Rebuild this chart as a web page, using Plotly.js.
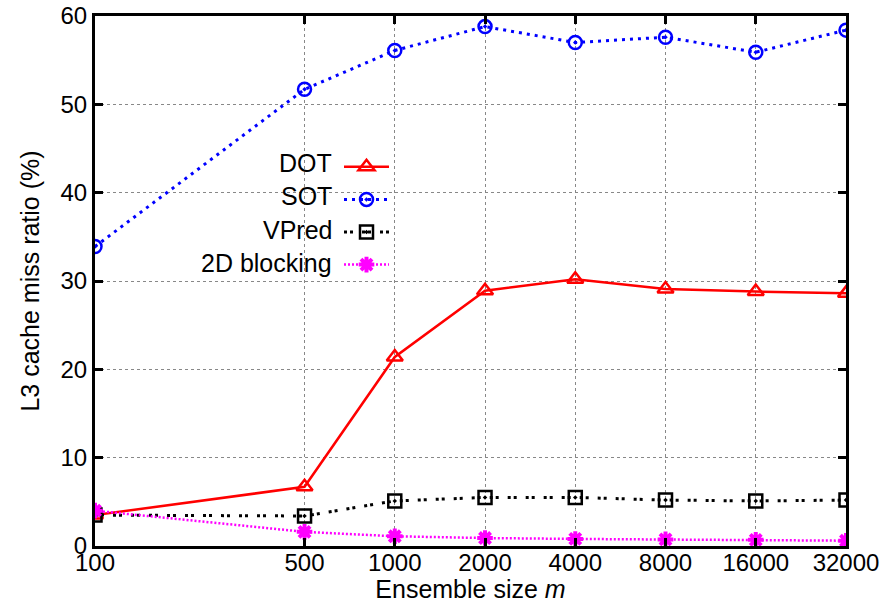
<!DOCTYPE html>
<html>
<head>
<meta charset="utf-8">
<script src="https://cdn.plot.ly/plotly-3.0.1.min.js"></script>
<style>html,body{margin:0;padding:0;background:#fff;}#chart{width:894px;height:603px;}</style>
</head>
<body>
<div id="chart"></div>
<script>
const ensembleSizes = [100, 500, 1000, 2000, 4000, 8000, 16000, 32000];
const tickLabels = ["100", "500", "1000", "2000", "4000", "8000", "16000", "32000"];
const seriesNames = ["DOT", "SOT", "VPred", "2D blocking"];
const dotValues = [3.5, 6.7, 21.4, 28.9, 30.2, 29.1, 28.8, 28.6];
const sotValues = [33.9, 51.7, 56.1, 58.8, 57.0, 57.6, 55.9, 58.4];
const vpredValues = [3.5, 3.4, 5.1, 5.5, 5.5, 5.2, 5.1, 5.2];
const blockingValues = [4.0, 1.6, 1.1, 0.9, 0.8, 0.75, 0.7, 0.6];
const yTicks = [0, 10, 20, 30, 40, 50, 60];

const FONT = "Liberation Sans, Arial, Helvetica, sans-serif";

const traces = [
  {x: ensembleSizes, y: dotValues, name: seriesNames[0], mode: "lines+markers",
   line: {color: "#ff0000", width: 2.5},
   marker: {symbol: "triangle-up-open", size: 14, color: "#ff0000", line: {width: 2.5, color: "#ff0000"}}},
  {x: ensembleSizes, y: sotValues, name: seriesNames[1], mode: "lines+markers",
   line: {color: "#0000ff", width: 3, dash: "3px,5px"},
   marker: {symbol: "circle-open-dot", size: 13, color: "#0000ff", line: {width: 2.5, color: "#0000ff"}}},
  {x: ensembleSizes, y: vpredValues, name: seriesNames[2], mode: "lines+markers",
   line: {color: "#000000", width: 3, dash: "3px,3px,3px,9px"},
   marker: {symbol: "square-open-dot", size: 13, color: "#000000", line: {width: 2.5, color: "#000000"}}},
  {x: ensembleSizes, y: blockingValues, name: seriesNames[3], mode: "lines+markers",
   line: {color: "#ff00ff", width: 2.5, dash: "2px,2px"},
   marker: {symbol: "asterisk-open", size: 13, color: "#ff00ff", line: {width: 4, color: "#ff00ff"}}}
];

traces.forEach((t, i) => { t.legendgroup = "g" + i; });

const legendX0 = 343, legendY0 = 163, legendStep = 33.3;
const annotations = seriesNames.map((n, i) => ({
  xref: "paper", yref: "paper",
  x: (legendX0 - 95 - 9) / 751,
  y: 1 - (legendY0 + i * legendStep - 16) / 530,
  text: n, showarrow: false, xanchor: "right", yanchor: "middle",
  font: {family: FONT, size: 25, color: "#000"}
}));

const layout = {
  width: 894, height: 603,
  margin: {l: 95, r: 48, t: 16, b: 57},
  paper_bgcolor: "#fff", plot_bgcolor: "#fff",
  font: {family: FONT, size: 22, color: "#000"},
  showlegend: true,
  legend: {
    x: (legendX0 - 95 - 4) / 751, xanchor: "left",
    y: 1 - (legendY0 - 17 - 16) / 530, yanchor: "top",
    bgcolor: "rgba(0,0,0,0)",
    font: {family: FONT, size: 22, color: "rgba(0,0,0,0)"},
    itemwidth: 45, tracegroupgap: 1, traceorder: "grouped"
  },
  xaxis: {
    type: "log", range: [Math.log10(100), Math.log10(32000)],
    tickvals: ensembleSizes, ticktext: tickLabels,
    ticks: "inside", ticklen: 8, tickwidth: 3, tickcolor: "#000",
    showline: true, linewidth: 3, linecolor: "#000", mirror: "ticks",
    showgrid: true, gridcolor: "#888", griddash: "dot", gridwidth: 1,
    zeroline: false, ticklabelstandoff: -7,
    tickfont: {family: FONT, size: 24, color: "#000"},
    title: {text: "Ensemble size <i>m</i>", font: {family: FONT, size: 25, color: "#000"}, standoff: 8},
    automargin: false
  },
  yaxis: {
    range: [0, 60], tickvals: yTicks,
    ticks: "inside", ticklen: 8, tickwidth: 3, tickcolor: "#000",
    showline: true, linewidth: 3, linecolor: "#000", mirror: "ticks",
    showgrid: true, gridcolor: "#888", griddash: "dot", gridwidth: 1,
    zeroline: false,
    tickfont: {family: FONT, size: 24, color: "#000"},
    title: {text: "L3 cache miss ratio (%)", font: {family: FONT, size: 25, color: "#000"}, standoff: 14},
    automargin: false
  },
  annotations: annotations
};

Plotly.newPlot("chart", traces, layout, {displayModeBar: false, staticPlot: true});
</script>
</body>
</html>
